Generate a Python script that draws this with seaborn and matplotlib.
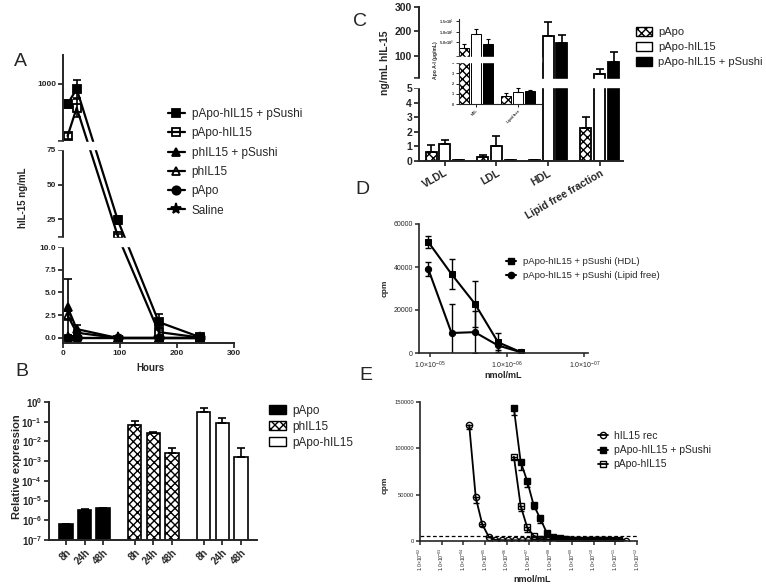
import numpy as np
import pandas as pd
import matplotlib
matplotlib.use("Agg")
import matplotlib.pyplot as plt
import seaborn as sns
from matplotlib.lines import Line2D
from matplotlib.patches import Patch

# ---------------- data ----------------
# A: serum hIL-15 (ng/mL) over time
hours = [8, 24, 96, 168, 240]
a_names = ["pApo-hIL15 + pSushi", "pApo-hIL15", "phIL15 + pSushi", "phIL15", "pApo", "Saline"]
a_apo_sushi = [894, 972, 24.3, 1.75, 0.1]
a_apo_sushi_err = [20, 47, 3, 0.85, 0.1]
a_apo_il15 = [726, 873, 12.9, 0.65, 0.05]
a_apo_il15_err = [15, 45, 1, 0.5, 0.05]
a_il15_sushi = [3.4, 0.98, 0, 0, 0]
a_il15_sushi_err = [3.1, 0.45, 0, 0, 0]
a_il15 = [2.5, 0.58, 0, 0, 0]
a_il15_err = [0.5, 0.3, 0, 0, 0]
a_papo = [0, 0, 0, 0, 0]
a_saline = [0, 0, 0, 0, 0]

# B: relative expression
b_times = ["8h", "24h", "48h"]
b_names = ["pApo", "phIL15", "pApo-hIL15"]
b_papo = [6.5e-7, 3.3e-6, 4.0e-6]
b_papo_err = [0, 0.5e-6, 0.3e-6]
b_il15 = [0.068, 0.028, 0.0027]
b_il15_err = [0.039, 0.003, 0.0019]
b_apo_il15 = [0.30, 0.089, 0.0017]
b_apo_il15_err = [0.18, 0.061, 0.0029]

# C: hIL-15 in lipoprotein fractions
c_fractions = ["VLDL", "LDL", "HDL", "Lipid free fraction"]
c_names = ["pApo", "pApo-hIL15", "pApo-hIL15 + pSushi"]
c_papo = [0.64, 0.3, 0.04, 2.24]
c_papo_err = [0.45, 0.1, 0, 0.76]
c_apo_il15 = [1.16, 1.05, 181, 26]
c_apo_il15_err = [0.28, 0.65, 59, 22]
c_apo_sushi = [0.06, 0.05, 152, 76.5]
c_apo_sushi_err = [0.02, 0.01, 34, 41]

# C inset: Apo A-I (ug/mL)
i_fractions = ["HDL", "Lipid free"]
i_papo = [4.76, 0.78]
i_papo_err = [0.15, 0.26]
i_apo_il15 = [8.8, 1.2]
i_apo_il15_err = [2.4, 0.33]
i_apo_sushi = [4.91, 1.24]
i_apo_sushi_err = [1.5, 0.13]

# D: binding (cpm) vs concentration
d_names = ["pApo-hIL15 + pSushi (HDL)", "pApo-hIL15 + pSushi (Lipid free)"]
d_conc = [1.06e-5, 5.3e-6, 2.65e-6, 1.32e-6, 6.6e-7]
d_hdl = [51600, 36700, 23000, 5000, 300]
d_hdl_err = [2900, 6800, 10700, 4500, 300]
d_free = [39000, 9300, 9700, 3500, 300]
d_free_err = [3200, 13500, 9700, 2000, 200]

# E: proliferation (cpm) vs concentration
e_names = ["hIL15 rec", "pApo-hIL15 + pSushi", "pApo-hIL15"]
e_rec_conc = [5.4e-5, 2.7e-5, 1.35e-5, 6.8e-6, 3.4e-6, 1.7e-6, 8.4e-7, 4.2e-7, 2.1e-7,
              1.05e-7, 5.3e-8, 2.6e-8, 1.3e-8, 6.6e-9, 3.3e-9, 1.6e-9, 8.2e-10, 4.1e-10,
              2.1e-10, 1.0e-10, 5.1e-11, 2.6e-11, 1.3e-11, 6.4e-12, 3.2e-12]
e_rec = [125000, 47000, 18000, 4600, 1200, 900, 800, 800, 700, 700, 600, 600, 600, 500,
         500, 500, 500, 400, 400, 400, 400, 400, 300, 300, 300]
e_rec_err = [4000, 6000, 1500, 800]
e_apo_conc = [4.7e-7, 2.3e-7, 1.15e-7, 5.8e-8, 2.9e-8, 1.45e-8, 7.2e-9, 3.6e-9, 1.8e-9,
              9.0e-10, 4.5e-10, 2.25e-10, 1.1e-10, 5.6e-11, 2.8e-11, 1.4e-11, 7.0e-12]
e_sushi = [143000, 85500, 64700, 38800, 24500, 9000, 4600, 3200, 1800, 1200, 1000, 900,
           800, 800, 700, 700, 600]
e_sushi_err = [7000, 9000, 6000, 4000, 5000, 2000]
e_apo_il15 = [91000, 38000, 14700, 5700, 2200, 1500, 1200, 1000, 900, 800, 800, 700, 700,
              600, 600, 500, 500]
e_apo_il15_err = [3000, 6000, 4700, 1500]
e_threshold = 5000

# ---------------- style ----------------
sns.set_style("ticks")
plt.rcParams["font.family"] = ["Liberation Sans", "DejaVu Sans"]
plt.rcParams["mathtext.fontset"] = "custom"
plt.rcParams["mathtext.rm"] = "Liberation Sans"
plt.rcParams["mathtext.bf"] = "Liberation Sans:bold"
plt.rcParams["mathtext.it"] = "Liberation Sans:italic"
plt.rcParams["hatch.linewidth"] = 1.0
plt.rcParams["axes.linewidth"] = 1.4

W, H = 766, 588
fig = plt.figure(figsize=(W / 100, H / 100), dpi=100)


def px_axes(x0, y0, x1, y1, **kw):
    return fig.add_axes([x0 / W, 1 - y1 / H, (x1 - x0) / W, (y1 - y0) / H], **kw)


def fxy(x, y):
    return x / W, 1 - y / H


def ftext(x, y, s, size, rot=0, weight="bold"):
    fig.text(x / W, 1 - y / H, s, fontsize=size, rotation=rot, fontweight=weight,
             ha="center", va="center")


def broken_y(ax, data_pts, screen_pts):
    d = np.asarray(data_pts, float)
    s = np.asarray(screen_pts, float)
    ax.set_yscale("function", functions=(lambda v: np.interp(v, d, s),
                                         lambda v: np.interp(v, s, d)))
    ax.set_ylim(d[0], d[-1])


def gap(ax, lo, hi, width_px):
    ax.axhspan(lo, hi, xmin=-7 / width_px, xmax=1, color="white", zorder=4, clip_on=False)


def style(ax, lw=1.4, size=6, length=3.5, bold=True):
    sns.despine(ax=ax)
    for s in ("left", "bottom"):
        ax.spines[s].set_linewidth(lw)
    ax.tick_params(direction="out", length=length, width=lw * 0.9, labelsize=size, pad=1.5)
    ax.minorticks_off()
    ax.set_xlabel("")
    ax.set_ylabel("")
    if bold:
        for t in ax.get_xticklabels() + ax.get_yticklabels():
            t.set_fontweight("bold")


def tilt(ax, angle):
    for t in ax.get_xticklabels():
        t.set_rotation(angle)
        t.set_ha("right")
        t.set_va("top")
        t.set_rotation_mode("anchor")


# ---------------- A ----------------
axA = px_axes(63, 55, 234, 343)
a_series = [
    (a_apo_sushi, a_apo_sushi_err, "s", True, 6),
    (a_apo_il15, a_apo_il15_err, "s", False, 6),
    (a_il15_sushi, a_il15_sushi_err, "^", True, 6),
    (a_il15, a_il15_err, "^", False, 6),
    (a_papo, None, "o", True, 6),
    (a_saline, None, "*", True, 8),
]
for vals, errs, mk, filled, ms in a_series:
    sns.lineplot(x=hours, y=vals, ax=axA, color="k", marker=mk, markersize=ms,
                 markerfacecolor="k" if filled else "none", markeredgecolor="k",
                 markeredgewidth=1.3, linewidth=1.6, errorbar=None, legend=False)
    if errs is not None:
        axA.errorbar(hours, vals, yerr=errs, fmt="none", ecolor="k", elinewidth=1.2,
                     capsize=3, capthick=1.2)
axA.set_xlim(0, 300)
axA.set_xticks([0, 100, 200, 300])
broken_y(axA, [-0.55, 10, 12, 75, 700, 1150], [0, 96, 106, 193, 202, 288])
axA.set_yticks([0, 2.5, 5, 7.5, 10, 12, 25, 50, 75, 700, 1000],
               ["0.0", "2.5", "5.0", "7.5", "10.0", "", "25", "50", "75", "", "1000"])
gap(axA, 10.2, 11.8, 171)
gap(axA, 144, 630, 171)
style(axA, size=6)
ftext(23, 198, "hIL-15 ng/mL", 7, rot=90)
ftext(150, 368, "Hours", 7)

a_handles = [Line2D([], [], color="k", lw=1.6, marker=mk, ms=ms, mec="k", mew=1.3,
                    mfc="k" if filled else "none")
             for _, _, mk, filled, ms in a_series]
fig.legend(a_handles, a_names, loc="upper left", bbox_to_anchor=fxy(168, 108),
           frameon=False, fontsize=8.5, handlelength=1.4, handletextpad=0.6,
           labelspacing=0.62, borderpad=0, borderaxespad=0)

# ---------------- B ----------------
axB = px_axes(49, 402, 257, 540)
group_offsets = [0, 3.7, 7.4]
b_series = [
    (b_papo, b_papo_err, "black", ""),
    (b_il15, b_il15_err, "white", "xxxx"),
    (b_apo_il15, b_apo_il15_err, "white", ""),
]
b_ticks = []
for gi, (vals, errs, col, hatch) in enumerate(b_series):
    pos = [group_offsets[gi] + k for k in range(len(b_times))]
    b_ticks += pos
    n0 = len(axB.patches)
    sns.barplot(x=pos, y=vals, native_scale=True, width=0.72, color=col, saturation=1,
                edgecolor="k", linewidth=1.2, errorbar=None, ax=axB)
    bars = axB.patches[n0:]
    for p in bars:
        p.set_hatch(hatch)
    axB.errorbar([p.get_x() + p.get_width() / 2 for p in bars], vals,
                 yerr=[np.zeros(len(vals)), errs], fmt="none", ecolor="k",
                 elinewidth=1.2, capsize=3, capthick=1.2)
axB.set_yscale("log")
axB.set_ylim(1e-7, 1)
axB.set_xlim(-0.91, 10.27)
axB.set_yticks([10.0 ** -k for k in range(8)],
               [r"$\mathbf{10^{%d}}$" % -k if k else r"$\mathbf{10^{0}}$" for k in range(8)])
axB.set_xticks(b_ticks, b_times * 3)
style(axB, size=7)
tilt(axB, 45)
ftext(17, 467, "Relative expression", 8, rot=90)
b_handles = [Patch(facecolor=c, edgecolor="k", hatch=h, lw=1) for _, _, c, h in b_series]
fig.legend(b_handles, b_names, loc="upper left", bbox_to_anchor=fxy(269, 405),
           frameon=False, fontsize=8.5, handlelength=1.4, handleheight=0.8,
           handletextpad=0.6, labelspacing=0.32, borderpad=0, borderaxespad=0)

# ---------------- C ----------------
axC = px_axes(419, 7, 623, 161)
c_df = pd.DataFrame({
    "fraction": c_fractions * 3,
    "series": [n for n in c_names for _ in c_fractions],
    "value": c_papo + c_apo_il15 + c_apo_sushi,
})
c_pal = {"pApo": "white", "pApo-hIL15": "white", "pApo-hIL15 + pSushi": "black"}
sns.barplot(data=c_df, x="fraction", y="value", hue="series", order=c_fractions,
            hue_order=c_names, palette=c_pal, saturation=1, width=0.8, gap=0.2,
            edgecolor="k", linewidth=1.3, errorbar=None, legend=False, ax=axC)
for cont, errs, hatch in zip(axC.containers, [c_papo_err, c_apo_il15_err, c_apo_sushi_err],
                             ["xxxx", "", ""]):
    for p in cont:
        p.set_hatch(hatch)
    axC.errorbar([p.get_x() + p.get_width() / 2 for p in cont], [p.get_height() for p in cont],
                 yerr=[np.zeros(len(errs)), errs], fmt="none", ecolor="k",
                 elinewidth=1.2, capsize=3, capthick=1.2)
axC.set_xlim(-0.5, 3.45)
broken_y(axC, [0, 5, 10, 300], [0, 73, 83, 154])
axC.set_yticks([0, 1, 2, 3, 4, 5, 10, 100, 200, 300],
               ["0", "1", "2", "3", "4", "5", "", "100", "200", "300"])
gap(axC, 5.5, 9.5, 204)
style(axC, size=7.5)
tilt(axC, 30)
ftext(385, 63, "ng/mL hIL-15", 7.5, rot=90)
c_handles = [Patch(facecolor=c_pal[n], edgecolor="k", hatch=h, lw=1)
             for n, h in zip(c_names, ["xxxx", "", ""])]
fig.legend(c_handles, c_names, loc="upper left", bbox_to_anchor=fxy(636, 27),
           frameon=False, fontsize=8, handlelength=1.4, handleheight=0.8,
           handletextpad=0.6, labelspacing=0.45, borderpad=0, borderaxespad=0)

# inset
axI = px_axes(459, 19, 541, 104, facecolor="none")
i_df = pd.DataFrame({
    "fraction": i_fractions * 3,
    "series": [n for n in c_names for _ in i_fractions],
    "value": i_papo + i_apo_il15 + i_apo_sushi,
})
sns.barplot(data=i_df, x="fraction", y="value", hue="series", order=i_fractions,
            hue_order=c_names, palette=c_pal, saturation=1, width=0.86, gap=0.22,
            edgecolor="k", linewidth=0.7, errorbar=None, legend=False, ax=axI)
for cont, errs, hatch in zip(axI.containers, [i_papo_err, i_apo_il15_err, i_apo_sushi_err],
                             ["xxxx", "", ""]):
    for p in cont:
        p.set_hatch(hatch)
    axI.errorbar([p.get_x() + p.get_width() / 2 for p in cont], [p.get_height() for p in cont],
                 yerr=[np.zeros(len(errs)), errs], fmt="none", ecolor="k",
                 elinewidth=0.8, capsize=1.5, capthick=0.8)
axI.set_xlim(-0.405, 1.55)
broken_y(axI, [0, 4, 4.4, 5, 16], [0, 41, 48, 62, 85])
axI.set_yticks([0, 1, 2, 3, 4, 4.4, 5, 10, 15],
               ["0", "1", "2", "3", "4", "", "5.0×10$^{0}$", "1.0×10$^{1}$", "1.5×10$^{1}$"])
gap(axI, 4.05, 4.35, 82)
style(axI, lw=0.8, size=2.7, length=2)
tilt(axI, 45)
ftext(436, 60, "Apo A-I (µg/mL)", 3.6, rot=90)

# ---------------- D ----------------
axD = px_axes(419, 224, 588, 353)
d_series = [(d_hdl, d_hdl_err, "s"), (d_free, d_free_err, "o")]
for vals, errs, mk in d_series:
    sns.lineplot(x=d_conc, y=vals, ax=axD, color="k", marker=mk, markersize=4.5,
                 markeredgecolor="k", linewidth=1.5, errorbar=None, legend=False)
    axD.errorbar(d_conc, vals, yerr=errs, fmt="none", ecolor="k", elinewidth=1,
                 capsize=2.5, capthick=1)
axD.set_xscale("log")
axD.set_xlim(1.4e-5, 9e-8)
axD.set_ylim(0, 60000)
axD.set_yticks([0, 20000, 40000, 60000], ["0", "20000", "40000", "60000"])
axD.set_xticks([1e-5, 1e-6, 1e-7], ["1.0×10$^{-05}$", "1.0×10$^{-06}$", "1.0×10$^{-07}$"])
style(axD, lw=1.2, size=5, length=3, bold=False)
ftext(385, 288, "cpm", 6, rot=90)
ftext(503, 376, "nmol/mL", 6.5)
d_handles = [Line2D([], [], color="k", lw=1.5, marker=mk, ms=4.5) for _, _, mk in d_series]
fig.legend(d_handles, d_names, loc="upper left", bbox_to_anchor=fxy(506, 257),
           frameon=False, fontsize=6.8, handlelength=1.1, handletextpad=0.7,
           labelspacing=0.55, borderpad=0, borderaxespad=0)

# ---------------- E ----------------
axE = px_axes(420, 402, 637, 541)
e_series = [
    (e_rec_conc, e_rec, e_rec_err, "o", False),
    (e_apo_conc, e_sushi, e_sushi_err, "s", True),
    (e_apo_conc, e_apo_il15, e_apo_il15_err, "s", False),
]
for conc, vals, errs, mk, filled in [e_series[0], e_series[2], e_series[1]]:
    sns.lineplot(x=conc, y=vals, ax=axE, color="k", marker=mk, markersize=4.5,
                 markerfacecolor="k" if filled else "none", markeredgecolor="k",
                 markeredgewidth=1, linewidth=1.3, errorbar=None, legend=False)
    n = len(errs)
    axE.errorbar(conc[:n], vals[:n], yerr=[errs, np.zeros(n)], fmt="none", ecolor="k",
                 elinewidth=1, capsize=2.5, capthick=1)
axE.axhline(e_threshold, color="k", lw=0.9, ls=(0, (3, 2)))
axE.set_xscale("log")
axE.set_xlim(1e-2, 1e-12)
axE.set_ylim(0, 150000)
axE.set_yticks([0, 50000, 100000, 150000], ["0", "50000", "100000", "150000"])
e_xt = [10.0 ** -k for k in range(2, 13)]
axE.set_xticks(e_xt, ["1.0×10$^{-%02d}$" % k for k in range(2, 13)])
style(axE, lw=1.2, size=4.2, length=3, bold=False)
axE.tick_params(axis="x", labelsize=3.7)
for t in axE.get_xticklabels():
    t.set_rotation(90)
ftext(385, 485, "cpm", 6, rot=90)
ftext(532, 580, "nmol/mL", 6.5)
e_handles = [Line2D([], [], color="k", lw=1.3, marker=mk, ms=4.5, mec="k",
                    mfc="k" if filled else "none") for _, _, _, mk, filled in e_series]
fig.legend(e_handles, e_names, loc="upper left", bbox_to_anchor=fxy(598, 431),
           frameon=False, fontsize=7.5, handlelength=1.0, handletextpad=0.5,
           labelspacing=0.4, borderpad=0, borderaxespad=0)

# panel letters
for letter, (x, y) in zip("ABCDE", [(20, 62), (22, 372), (360, 22), (362, 190), (366, 376)]):
    ftext(x, y, letter, 14, weight="normal")

fig.savefig("out.png", dpi=100)
